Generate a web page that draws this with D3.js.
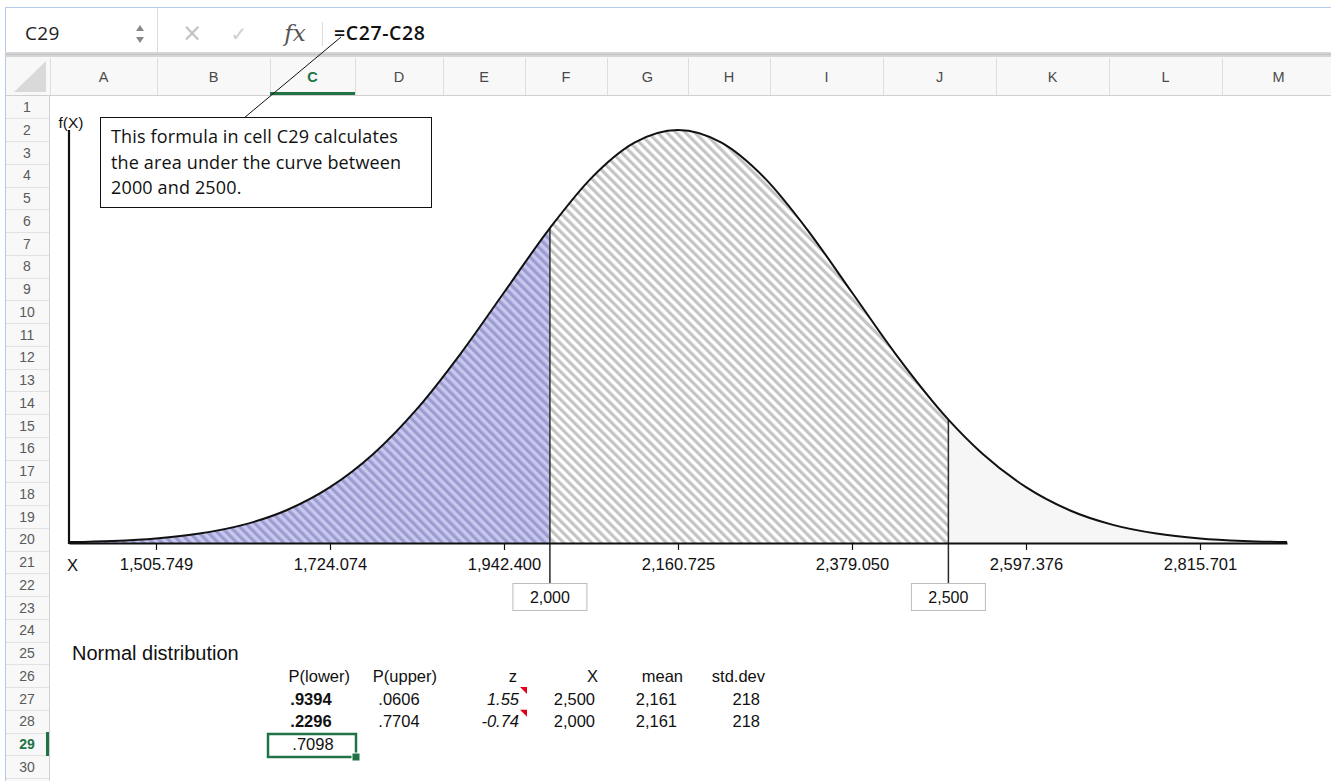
<!DOCTYPE html>
<html><head><meta charset="utf-8">
<script src="https://cdn.jsdelivr.net/npm/d3@7"></script>
<style>
html,body{margin:0;padding:0;background:#fff;overflow:hidden}
svg{display:block}
text{font-family:"Liberation Sans",Arial,sans-serif}
</style></head><body>
<svg id="c" width="1331" height="781"></svg>
<script>
// ---------- data ----------
const curveX = [1396.6, 1451.2, 1505.7, 1560.3, 1614.9, 1669.5, 1724.1, 1778.7, 1833.2, 1887.8, 1942.4, 2000,
  2051.6, 2106.1, 2160.7, 2215.3, 2269.9, 2324.5, 2379.1, 2433.6, 2500, 2542.8, 2597.4, 2652.0, 2706.5,
  2761.1, 2815.7, 2870.3, 2924.9];
const curveF = [0.0040, 0.0093, 0.0203, 0.0417, 0.0802, 0.145, 0.247, 0.395, 0.593, 0.837, 1.108, 1.393,
  1.613, 1.771, 1.827, 1.771, 1.613, 1.379, 1.108, 0.837, 0.546, 0.395, 0.247, 0.145, 0.0802,
  0.0417, 0.0203, 0.0093, 0.0040]; // f(X) x 1e-3
const xDomain = [1396.588, 2924.862];
const fMax = 1.827;
const tickValues = [1505.749, 1724.074, 1942.400, 2160.725, 2379.050, 2597.376, 2815.701];
const tickLabels = ["1,505.749", "1,724.074", "1,942.400", "2,160.725", "2,379.050", "2,597.376", "2,815.701"];
const bounds = [2000, 2500];
const boundLabels = ["2,000", "2,500"];
const columnLetters = ["A","B","C","D","E","F","G","H","I","J","K","L","M"];
const rowNumbers = d3.range(1, 31);
const tableTitle = "Normal distribution";
const tableHeaders = ["P(lower)", "P(upper)", "z", "X", "mean", "std.dev"];
const row27 = [".9394", ".0606", "1.55", "2,500", "2,161", "218"];
const row28 = [".2296", ".7704", "-0.74", "2,000", "2,161", "218"];
const resultValue = ".7098";
const cellName = "C29";
const formulaText = "=C27-C28";
const noteLines = ["This formula in cell C29 calculates", "the area under the curve between", "2000 and 2500."];

// ---------- layout ----------
const svg = d3.select("#c");
const W = 1331, H = 781;
const colEdges = [50,157,270,355,443,525,607,688,770,883,996,1109,1222,1335];
const rowY = n => 107 + (n - 1) * 22.75;
const green = "#217346";

// defs: hatch patterns
const defs = svg.append("defs");
function hatch(id, bg, fg, p, w) {
  const pt = defs.append("pattern").attr("id", id).attr("patternUnits", "userSpaceOnUse")
    .attr("width", p).attr("height", p).attr("patternTransform", "rotate(-45)");
  pt.append("rect").attr("width", p).attr("height", p).attr("fill", bg);
  pt.append("rect").attr("x", 0).attr("width", w).attr("height", p).attr("fill", fg);
}
hatch("hLow", "#c8c8ee", "#9c9cd0", 6.6, 3.2);
hatch("hMid", "#ffffff", "#c4c4c4", 6.6, 3.2);

// ---------- formula bar ----------
svg.append("line").attr("x1",5).attr("x2",W).attr("y1",7.5).attr("y2",7.5).attr("stroke","#b3c9e8");
svg.append("line").attr("x1",5.5).attr("x2",5.5).attr("y1",7).attr("y2",H).attr("stroke","#b3c9e8");
svg.append("text").attr("x",25).attr("y",40).attr("font-size",19).attr("letter-spacing",0.3)
  .attr("fill","#222").style("font-family","'Open Sans'").text(cellName);
svg.append("path").attr("d","M136,31 L140,25 L144,31 Z").attr("fill","#888");
svg.append("path").attr("d","M136,37 L140,43 L144,37 Z").attr("fill","#888");
svg.append("line").attr("x1",157.5).attr("x2",157.5).attr("y1",8).attr("y2",52).attr("stroke","#dcdcdc");
svg.append("text").attr("x",192).attr("y",41).attr("text-anchor","middle").attr("font-size",24)
  .attr("fill","#c2c2c2").style("font-family","'DejaVu Sans'").text("\u00D7");
svg.append("text").attr("x",239).attr("y",41).attr("text-anchor","middle").attr("font-size",20)
  .attr("fill","#cfcfcf").style("font-family","'DejaVu Sans'").text("\u2713");
svg.append("text").attr("x",295).attr("y",41).attr("text-anchor","middle").attr("font-size",23)
  .attr("fill","#555").attr("font-style","italic").style("font-family","'DejaVu Serif'").text("fx");
svg.append("line").attr("x1",322.5).attr("x2",322.5).attr("y1",22).attr("y2",46).attr("stroke","#dcdcdc");
svg.append("text").attr("x",334).attr("y",40).attr("font-size",19.5).attr("font-weight",600).attr("letter-spacing",0.6)
  .attr("fill","#111").style("font-family","'Open Sans'").text(formulaText);

// separator between formula bar and sheet
svg.append("rect").attr("x",5).attr("y",52).attr("width",W).attr("height",5).attr("fill","#d6d6d6");
svg.append("line").attr("x1",5).attr("x2",W).attr("y1",54.5).attr("y2",54.5).attr("stroke","#c2c2c2");

// ---------- column header ----------
svg.append("rect").attr("x",6).attr("y",57).attr("width",W).attr("height",38).attr("fill","#f8f8f8");
svg.append("line").attr("x1",6).attr("x2",W).attr("y1",95.5).attr("y2",95.5).attr("stroke","#d0d0d0");
svg.append("path").attr("d","M14,92 L46,92 L46,61 Z").attr("fill","#d9d9d9");
svg.selectAll("line.colsep").data(colEdges.slice(0, -1)).join("line").attr("class","colsep")
  .attr("x1",d=>d+0.5).attr("x2",d=>d+0.5).attr("y1",58).attr("y2",95).attr("stroke","#dedede");
svg.selectAll("text.col").data(columnLetters).join("text").attr("class","col")
  .attr("x",(d,i)=>(colEdges[i]+colEdges[i+1])/2).attr("y",82).attr("text-anchor","middle")
  .attr("font-size",14.5).attr("font-weight",d=>d==="C"?"bold":"normal")
  .attr("fill",d=>d==="C"?green:"#4a4a4a").text(d=>d);
svg.append("rect").attr("x",270).attr("y",92).attr("width",85).attr("height",3).attr("fill",green);

// ---------- row header ----------
svg.append("rect").attr("x",6).attr("y",96).attr("width",43).attr("height",H-96).attr("fill","#f8f8f8");
svg.append("line").attr("x1",49.5).attr("x2",49.5).attr("y1",96).attr("y2",H).attr("stroke","#d0d0d0");
svg.selectAll("line.rowsep").data(rowNumbers).join("line").attr("class","rowsep")
  .attr("x1",6).attr("x2",49).attr("y1",d=>Math.round(rowY(d)+11.4)+0.5).attr("y2",d=>Math.round(rowY(d)+11.4)+0.5)
  .attr("stroke","#e2e2e2");
svg.selectAll("text.row").data(rowNumbers).join("text").attr("class","row")
  .attr("x",27).attr("y",d=>rowY(d)+5).attr("text-anchor","middle").attr("font-size",14)
  .attr("font-weight",d=>d===29?"bold":"normal")
  .attr("fill",d=>d===29?green:"#5a5a5a").text(d=>d);
svg.append("rect").attr("x",46).attr("y",rowY(29)-12).attr("width",3).attr("height",24).attr("fill",green);

// ---------- chart ----------
const x = d3.scaleLinear().domain(xDomain).range([69, 1287]);
const y = d3.scaleLinear().domain([0, fMax]).range([543, 130]);
const pts = curveX.map((v, i) => ({x: v, f: curveF[i]}));
const area = d3.area().x(d => x(d.x)).y0(y(0)).y1(d => y(d.f)).curve(d3.curveMonotoneX);
const line = d3.line().x(d => x(d.x)).y(d => y(d.f)).curve(d3.curveMonotoneX);

const g = svg.append("g");
g.append("path").datum(pts.filter(p => p.x <= bounds[0])).attr("d", area).attr("fill", "url(#hLow)");
g.append("path").datum(pts.filter(p => p.x >= bounds[0] && p.x <= bounds[1])).attr("d", area).attr("fill", "url(#hMid)");
g.append("path").datum(pts.filter(p => p.x >= bounds[1])).attr("d", area).attr("fill", "#f6f6f6");

// boundary lines and labels
bounds.forEach((b, i) => {
  const fb = curveF[curveX.indexOf(b)];
  g.append("line").attr("x1", x(b)).attr("x2", x(b)).attr("y1", y(fb)).attr("y2", 583)
    .attr("stroke", "#2a2a2a").attr("stroke-width", 1.5);
  g.append("rect").attr("x", x(b) - 37).attr("y", 583.5).attr("width", 74).attr("height", 27)
    .attr("fill", "#fff").attr("stroke", "#bdbdbd");
  g.append("text").attr("x", x(b)).attr("y", 602.5).attr("text-anchor", "middle")
    .attr("font-size", 16).attr("fill", "#111").text(boundLabels[i]);
});

g.append("path").datum(pts).attr("d", line).attr("fill", "none").attr("stroke", "#111").attr("stroke-width", 2);

// axes
const xAxis = d3.axisBottom(x).tickValues(tickValues).tickFormat((d, i) => tickLabels[i])
  .tickSize(7).tickSizeOuter(0).tickPadding(8);
const ax = g.append("g").attr("transform", "translate(0,543)").call(xAxis);
ax.select(".domain").attr("stroke", "#111").attr("stroke-width", 2.2);
ax.selectAll(".tick line").attr("stroke", "#111").attr("stroke-width", 1.2);
ax.selectAll(".tick text").attr("font-size", 16.5).attr("fill", "#111")
  .style("font-family", "'Liberation Sans',Arial,sans-serif");
g.append("line").attr("x1", 69).attr("x2", 69).attr("y1", y(fMax)).attr("y2", 544)
  .attr("stroke", "#111").attr("stroke-width", 2.2);
g.append("text").attr("x", 71).attr("y", 128).attr("text-anchor", "middle").attr("font-size", 15.5)
  .attr("fill", "#111").text("f(X)");
g.append("text").attr("x", 67).attr("y", 571).attr("font-size", 16.5).attr("fill", "#111").text("X");

// ---------- callout ----------
svg.append("line").attr("x1", 341).attr("y1", 37).attr("x2", 244).attr("y2", 118).attr("stroke", "#111").attr("stroke-width", 1);
svg.append("rect").attr("x", 100.5).attr("y", 117.5).attr("width", 331).attr("height", 90)
  .attr("fill", "#fff").attr("stroke", "#111").attr("stroke-width", 1);
svg.selectAll("text.note").data(noteLines).join("text").attr("class", "note")
  .attr("x", 111).attr("y", (d, i) => 143 + i * 25.5).attr("font-size", 18).attr("letter-spacing", 0.15)
  .attr("fill", "#111").style("font-family", "'Open Sans'").text(d => d);

// ---------- table ----------
svg.append("text").attr("x", 72).attr("y", 660).attr("font-size", 20).attr("fill", "#111").text(tableTitle);
const headRight = [350, 437, 517, 598, 683, 765];
svg.selectAll("text.th").data(tableHeaders).join("text").attr("class", "th")
  .attr("x", (d, i) => headRight[i]).attr("y", rowY(26) + 6).attr("text-anchor", "end")
  .attr("font-size", 16.5).attr("fill", "#111").text(d => d);
const valX = [311, 399, 519, 595, 677, 760];
const valAnchor = ["middle", "middle", "end", "end", "end", "end"];
[[row27, 27], [row28, 28]].forEach(([row, r]) => {
  svg.selectAll("text.r" + r).data(row).join("text").attr("class", "r" + r)
    .attr("x", (d, i) => valX[i]).attr("y", rowY(r) + 6).attr("text-anchor", (d, i) => valAnchor[i])
    .attr("font-size", 16.5).attr("fill", "#111")
    .attr("font-weight", (d, i) => i === 0 ? "bold" : "normal")
    .attr("font-style", (d, i) => i === 2 ? "italic" : "normal").text(d => d);
  const top = rowY(r) - 11.4;
  svg.append("path").attr("d", `M520,${top} L527,${top} L527,${top + 7} Z`).attr("fill", "#e0001b");
});
svg.append("rect").attr("x", 268).attr("y", 734).attr("width", 88).attr("height", 23)
  .attr("fill", "none").attr("stroke", green).attr("stroke-width", 2.5);
svg.append("rect").attr("x", 352).attr("y", 753).attr("width", 8).attr("height", 8).attr("fill", green)
  .attr("stroke", "#fff").attr("stroke-width", 1);
svg.append("text").attr("x", 313).attr("y", rowY(29) + 6).attr("text-anchor", "middle")
  .attr("font-size", 16.5).attr("fill", "#111").text(resultValue);
</script>
</body></html>
